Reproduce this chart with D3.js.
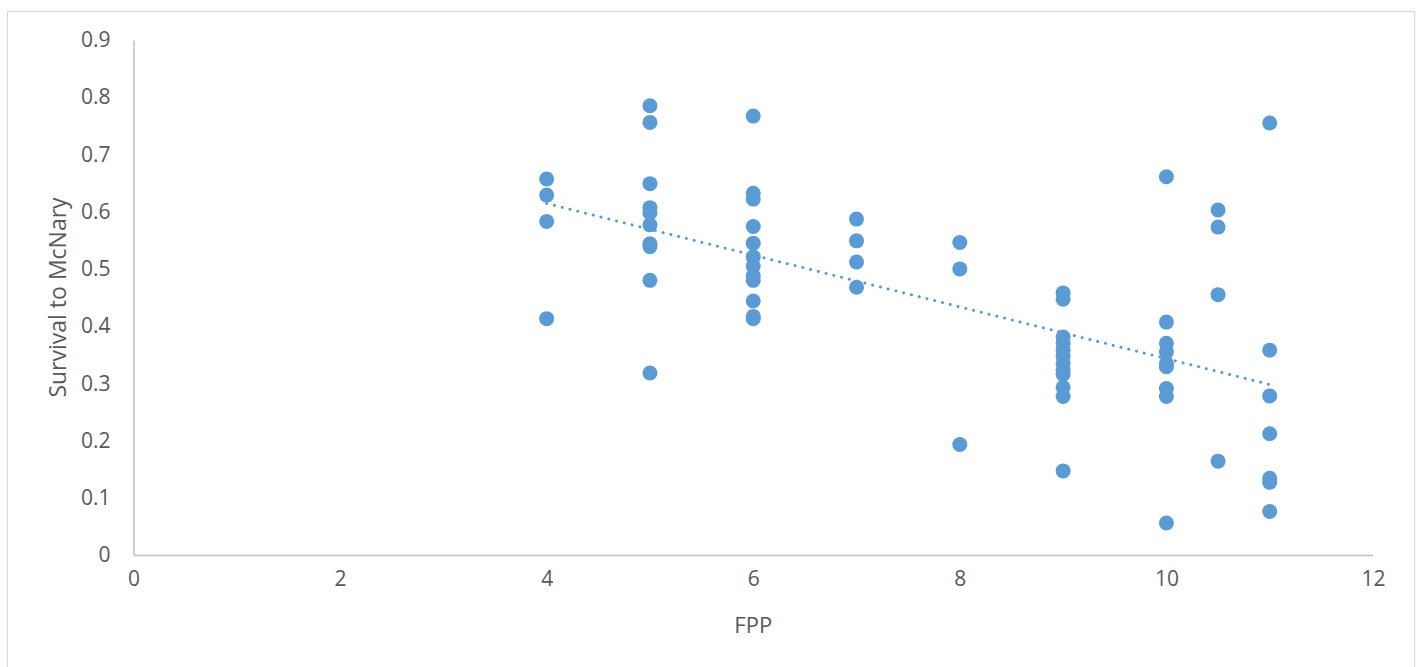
<!DOCTYPE html>
<html>
<head>
<meta charset="utf-8">
<script src="https://cdn.jsdelivr.net/npm/d3@7"></script>
<style>
  html, body { margin: 0; padding: 0; background: #fff; }
  svg { display: block; }
  text { font-family: "Open Sans", "Liberation Sans", sans-serif; fill: #595959; }
</style>
</head>
<body>
<svg id="chart" width="1421" height="667"></svg>
<script>
// ---- Data ----
const fpp = [
  4, 4, 4, 4,
  5, 5, 5, 5, 5, 5, 5, 5, 5, 5,
  6, 6, 6, 6, 6, 6, 6, 6, 6, 6, 6, 6,
  7, 7, 7, 7,
  8, 8, 8,
  9, 9, 9, 9, 9, 9, 9, 9, 9, 9, 9, 9,
  10, 10, 10, 10, 10, 10, 10, 10, 10,
  10.5, 10.5, 10.5, 10.5,
  11, 11, 11, 11, 11, 11, 11
];
const survival = [
  0.657, 0.629, 0.583, 0.413,
  0.785, 0.756, 0.649, 0.607, 0.598, 0.577, 0.544, 0.539, 0.480, 0.318,
  0.767, 0.632, 0.622, 0.574, 0.545, 0.521, 0.505, 0.488, 0.480, 0.444, 0.417, 0.413,
  0.587, 0.549, 0.512, 0.468,
  0.546, 0.500, 0.193,
  0.458, 0.447, 0.381, 0.370, 0.358, 0.347, 0.335, 0.323, 0.316, 0.293, 0.277, 0.147,
  0.661, 0.407, 0.370, 0.355, 0.335, 0.329, 0.291, 0.277, 0.056,
  0.603, 0.573, 0.455, 0.164,
  0.755, 0.358, 0.278, 0.212, 0.134, 0.127, 0.076
];
const xTicks = [0, 2, 4, 6, 8, 10, 12];
const yTicks = [0, 0.1, 0.2, 0.3, 0.4, 0.5, 0.6, 0.7, 0.8, 0.9];
const xTitle = "FPP";
const yTitle = "Survival to McNary";

// ---- Layout ----
const svg = d3.select("#chart");
const plot = { left: 133.5, right: 1373, top: 40, bottom: 555 };
const color = "#5B9BD5";

// chart border
svg.append("rect")
  .attr("x", 7.5).attr("y", 11.5)
  .attr("width", 1407).attr("height", 660)
  .attr("fill", "none").attr("stroke", "#d9d9d9").attr("stroke-width", 1.2);

const x = d3.scaleLinear().domain([0, 12]).range([plot.left, plot.right]);
const y = d3.scaleLinear().domain([0, 0.9]).range([plot.bottom, plot.top]);

// axes
const xAxis = d3.axisBottom(x).tickValues(xTicks).tickSize(0).tickPadding(16).tickFormat(d3.format("d"));
const gx = svg.append("g").attr("transform", `translate(0,${plot.bottom})`).call(xAxis);
gx.select(".domain").attr("stroke", "#bfbfbf").attr("stroke-width", 1.5);
gx.selectAll("text").attr("font-size", 21).attr("fill", "#595959")
  .attr("font-family", '"Open Sans", sans-serif');

const yAxis = d3.axisLeft(y).tickValues(yTicks).tickSize(0).tickPadding(23).tickFormat(d => d === 0 ? "0" : d3.format(".1f")(d));
const gy = svg.append("g").attr("transform", `translate(${plot.left},0)`).call(yAxis);
gy.select(".domain").attr("stroke", "#bfbfbf").attr("stroke-width", 1.5);
gy.selectAll("text").attr("font-size", 21).attr("fill", "#595959")
  .attr("font-family", '"Open Sans", sans-serif');

// axis titles
svg.append("text")
  .attr("x", (plot.left + plot.right) / 2).attr("y", 633)
  .attr("text-anchor", "middle").attr("font-size", 22)
  .text(xTitle);
svg.append("text")
  .attr("transform", `translate(66,${(plot.top + plot.bottom) / 2}) rotate(-90)`)
  .attr("text-anchor", "middle").attr("font-size", 23)
  .text(yTitle);

// points
const pts = fpp.map((f, i) => ({ x: f, y: survival[i] }));
svg.append("g").selectAll("circle").data(pts).join("circle")
  .attr("cx", d => x(d.x)).attr("cy", d => y(d.y))
  .attr("r", 7.5).attr("fill", color);

// linear trendline (least squares)
const mx = d3.mean(pts, d => d.x), my = d3.mean(pts, d => d.y);
const slope = d3.sum(pts, d => (d.x - mx) * (d.y - my)) / d3.sum(pts, d => (d.x - mx) ** 2);
const icpt = my - slope * mx;
const [xmin, xmax] = d3.extent(fpp);
svg.append("line")
  .attr("x1", x(xmin)).attr("y1", y(icpt + slope * xmin))
  .attr("x2", x(xmax)).attr("y2", y(icpt + slope * xmax))
  .attr("stroke", color).attr("stroke-width", 3)
  .attr("stroke-linecap", "round").attr("stroke-dasharray", "0.1 7.9");
</script>
</body>
</html>
